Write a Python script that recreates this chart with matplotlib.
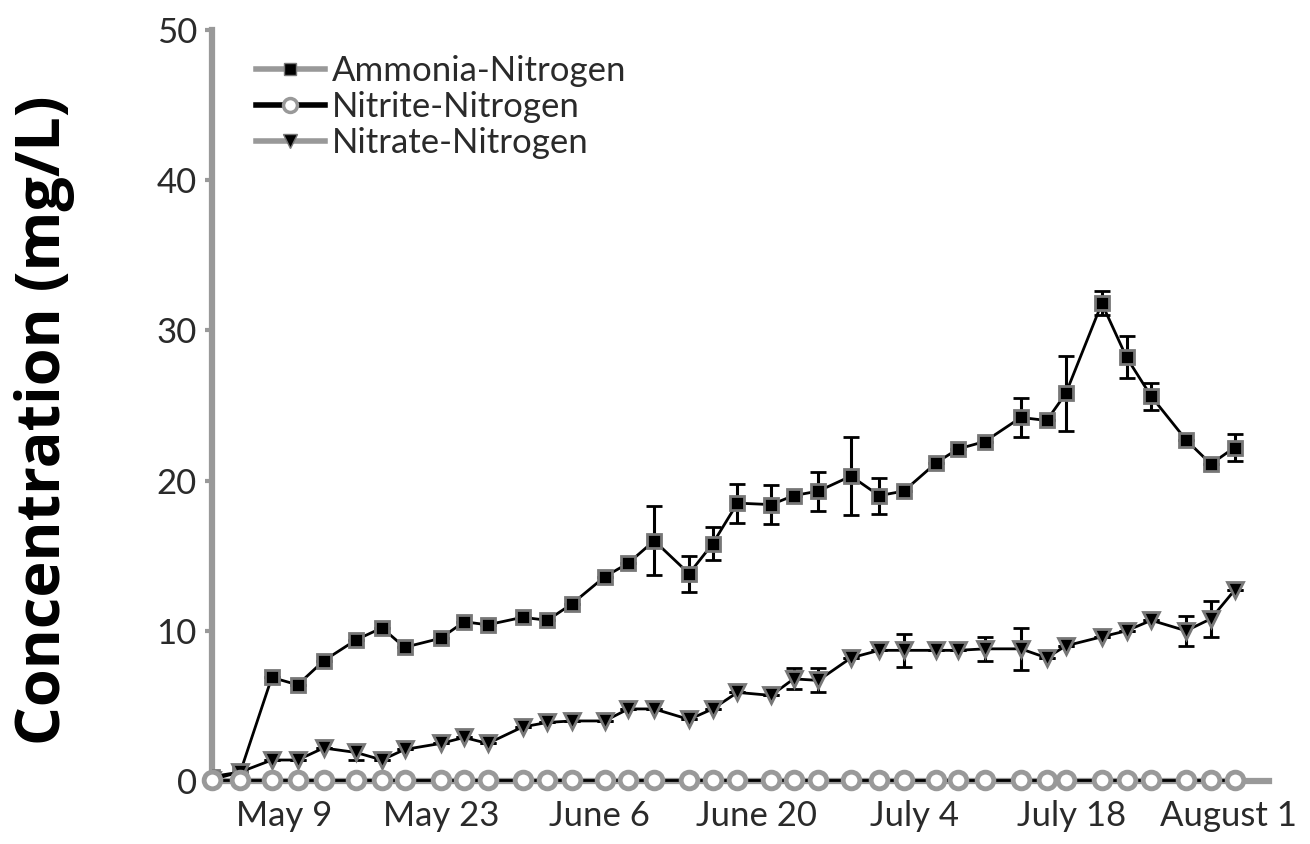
import matplotlib
matplotlib.use("Agg")
import matplotlib.pyplot as plt
from matplotlib.lines import Line2D

# sampling days, counted from May 9 (= day 0)
days = [-6.4, -3.9, -1.1, 1.2, 3.5, 6.4, 8.7, 10.7, 13.9, 16.0, 18.1, 21.2, 23.4,
        25.6, 28.5, 30.6, 32.9, 36.0, 38.1, 40.3, 43.3, 45.3, 47.5, 50.4, 52.9,
        55.1, 58.0, 59.9, 62.3, 65.5, 67.8, 69.5, 72.7, 74.9, 77.1, 80.2, 82.4, 84.5]

ammonia = [0.3, 0.6, 6.9, 6.4, 8.0, 9.4, 10.2, 8.9, 9.5, 10.6, 10.4, 10.9, 10.7,
           11.8, 13.6, 14.5, 16.0, 13.8, 15.8, 18.5, 18.4, 19.0, 19.3, 20.3, 19.0,
           19.3, 21.2, 22.1, 22.6, 24.2, 24.0, 25.8, 31.8, 28.2, 25.6, 22.7, 21.1, 22.2]
ammonia_err = [0, 0, 0, 0, 0, 0, 0, 0, 0, 0, 0, 0, 0,
               0, 0, 0, 2.3, 1.2, 1.1, 1.3, 1.3, 0, 1.3, 2.6, 1.2,
               0, 0, 0, 0, 1.3, 0, 2.5, 0.8, 1.4, 0.9, 0, 0, 0.9]

nitrite = [0.1, 0.1, 0.1, 0.1, 0.1, 0.1, 0.1, 0.1, 0.1, 0.1, 0.1, 0.1, 0.1,
           0.1, 0.1, 0.1, 0.1, 0.1, 0.1, 0.1, 0.1, 0.1, 0.1, 0.1, 0.1,
           0.1, 0.1, 0.1, 0.1, 0.1, 0.1, 0.1, 0.1, 0.1, 0.1, 0.1, 0.1, 0.1]

nitrate = [0.1, 0.6, 1.4, 1.4, 2.2, 1.9, 1.4, 2.1, 2.5, 2.9, 2.5, 3.6, 3.9,
           4.0, 4.0, 4.8, 4.8, 4.1, 4.8, 5.9, 5.7, 6.8, 6.7, 8.2, 8.7,
           8.7, 8.7, 8.7, 8.8, 8.8, 8.2, 9.0, 9.6, 10.0, 10.7, 10.0, 10.8, 12.7]
nitrate_err = [0, 0, 0, 0, 0, 0.5, 0, 0, 0, 0, 0, 0, 0,
               0, 0, 0, 0, 0, 0, 0, 0, 0.7, 0.8, 0, 0,
               1.1, 0, 0, 0.8, 1.4, 0, 0, 0, 0, 0, 1.0, 1.2, 0]

tick_days = [0, 14, 28, 42, 56, 70, 84]
tick_labels = ["May 9", "May 23", "June 6", "June 20", "July 4", "July 18", "August 1"]

GRAY = "#999999"
plt.rcParams["font.family"] = ["Lato", "DejaVu Sans"]

fig = plt.figure(figsize=(13.1, 8.44), dpi=100)
ax = fig.add_axes([0.162, 0.0746, 0.807, 0.89])

ax.errorbar(days, ammonia, yerr=ammonia_err, color="black", lw=2,
            marker="s", ms=10, mfc="black", mec="#777777", mew=2,
            ecolor="black", elinewidth=2.2, capsize=6, capthick=2.5, zorder=3)
ax.errorbar(days, nitrate, yerr=nitrate_err, color="black", lw=2,
            marker="v", ms=11, mfc="black", mec="#777777", mew=2,
            ecolor="black", elinewidth=2.2, capsize=6, capthick=2.5, zorder=3)
ax.plot(days, nitrite, color="black", lw=2, marker="o", ms=12,
        mfc="white", mec=GRAY, mew=3.5, zorder=4, clip_on=False)

ax.set_xlim(-6.4, 87.6)
ax.set_ylim(0, 50)
ax.set_yticks([0, 10, 20, 30, 40, 50])
ax.set_xticks(tick_days)
ax.set_xticklabels(tick_labels)

for s in ["top", "right"]:
    ax.spines[s].set_visible(False)
ax.spines["left"].set_color(GRAY)
ax.spines["left"].set_linewidth(4.5)
ax.spines["bottom"].set_color(GRAY)
ax.spines["bottom"].set_linewidth(4.5)

ax.tick_params(axis="y", direction="out", length=5, width=3, color=GRAY,
               labelsize=25, labelcolor="#2a2a2a", pad=6)
ax.tick_params(axis="x", length=0, labelsize=25, labelcolor="#2a2a2a", pad=14)

fig.text(0.034, 0.502, "Concentration (mg/L)", rotation=90, ha="center",
         va="center", fontsize=44, fontweight="bold",
         family=["Open Sans", "DejaVu Sans"])

handles = [
    Line2D([], [], color=GRAY, lw=4, marker="s", ms=9, mfc="black", mec="#777777"),
    Line2D([], [], color="black", lw=4, marker="o", ms=10, mfc="white", mec=GRAY, mew=2.5),
    Line2D([], [], color=GRAY, lw=4, marker="v", ms=10, mfc="black", mec="#777777"),
]
ax.legend(handles, ["Ammonia-Nitrogen", "Nitrite-Nitrogen", "Nitrate-Nitrogen"],
          loc="upper left", bbox_to_anchor=(0.028, 0.985), frameon=False,
          fontsize=25, handlelength=2.0, handletextpad=0.2, labelspacing=0.12,
          borderaxespad=0, labelcolor="#2a2a2a")

fig.savefig("out.png", dpi=100)
